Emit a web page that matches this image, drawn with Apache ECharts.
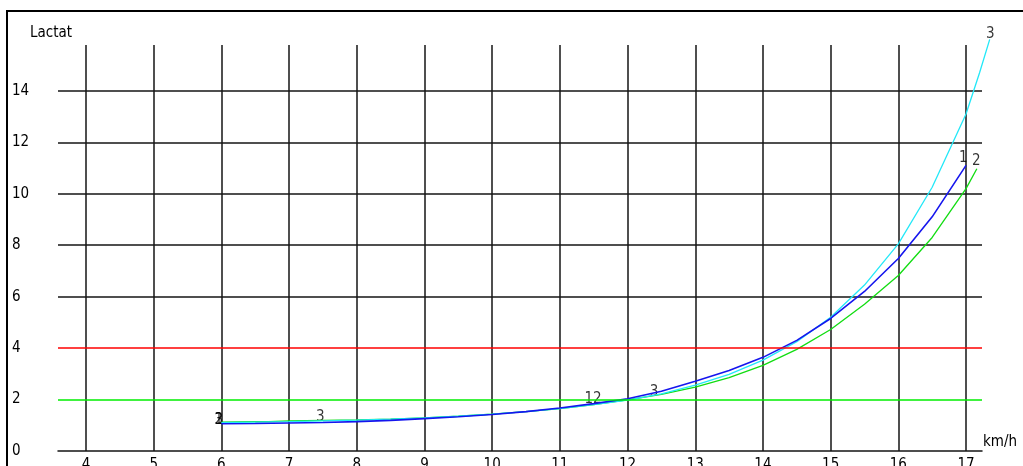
<!DOCTYPE html>
<html>
<head>
<meta charset="utf-8">
<script src="https://cdn.jsdelivr.net/npm/echarts@6/dist/echarts.min.js"></script>
<style>
html,body{margin:0;padding:0;background:#fff;}
#chart{width:1023px;height:466px;}
</style>
</head>
<body>
<div id="chart"></div>
<script>
// x tick labels (km/h) and y tick labels (Lactat)
var xTicks = [4,5,6,7,8,9,10,11,12,13,14,15,16,17];
var yTicks = [0,2,4,6,8,10,12,14];
var yGridLines = [6,8,10,12,14];
var thresholds = [2,4];

// curve 1 (blue)
var curve1 = [[6,1.06],[6.5,1.07],[7,1.09],[7.5,1.11],[8,1.14],[8.5,1.19],[9,1.26],[9.5,1.33],[10,1.42],[10.5,1.53],[11,1.67],[11.5,1.84],[12,2.03],[12.5,2.32],[13,2.71],[13.5,3.13],[14,3.64],[14.5,4.3],[15,5.15],[15.5,6.2],[16,7.48],[16.5,9.1],[17,11.1]];
// curve 2 (green)
var curve2 = [[6,1.12],[6.5,1.14],[6.7,1.14],[6.72,1.17],[7,1.17],[7.5,1.19],[8,1.21],[8.5,1.24],[9,1.29],[9.5,1.35],[10,1.43],[10.5,1.53],[11,1.65],[11.5,1.8],[12,1.99],[12.5,2.2],[13,2.48],[13.5,2.85],[14,3.33],[14.5,3.95],[15,4.72],[15.5,5.7],[16,6.82],[16.5,8.3],[17,10.2],[17.16,10.97]];
// curve 3 (cyan)
var curve3 = [[6,1.1],[6.5,1.12],[7,1.14],[7.5,1.17],[8,1.2],[8.5,1.24],[9,1.29],[9.5,1.35],[10,1.43],[10.5,1.53],[11,1.65],[11.5,1.8],[12,1.98],[12.5,2.22],[13,2.56],[13.5,2.98],[14,3.53],[14.5,4.25],[15,5.2],[15.5,6.45],[16,8.05],[16.5,10.25],[17,13.1],[17.2,14.7],[17.35,16.0]];
// curve number labels [x, y, text]
var curveLabels = [[5.96,1.2,'1'],[5.96,1.2,'2'],[5.96,1.2,'3'],[7.46,1.33,'3'],[11.49,2.0,'12'],[12.39,2.3,'3'],[16.96,11.4,'1'],[17.15,11.28,'2'],[17.36,16.22,'3']];

var FONT = '"Liberation Sans Narrow","DejaVu Sans Condensed","Liberation Sans",sans-serif';
var GRIDC = '#141414';
// axis extents (main grid: 58..982 px wide, 45..451 px high)
var X_MIN = 3.586, X_MAX = 17.236, Y_MAX = 15.78;
// overlay grid for curves (same scale, larger area so curves are not clipped)
var X_MAX2 = X_MIN + 942 / (924 / (X_MAX - X_MIN));
var Y_MAX2 = 431 / (406 / Y_MAX);

var chart = echarts.init(document.getElementById('chart'), null, {renderer:'canvas'});
chart.setOption({
  animation:false,
  backgroundColor:'#fff',
  grid:[
    {left:58, right:41, top:45, bottom:15, containLabel:false, outerBoundsMode:'none'},
    {left:58, right:23, top:20, bottom:15, containLabel:false, outerBoundsMode:'none'}
  ],
  xAxis:[{
    type:'value', min:X_MIN, max:X_MAX, gridIndex:0,
    axisLine:{show:true, lineStyle:{color:GRIDC, width:1.5}},
    axisTick:{show:false, customValues:xTicks},
    axisLabel:{customValues:xTicks, margin:7, color:'#000', fontFamily:FONT, fontSize:15},
    splitLine:{show:true, lineStyle:{color:GRIDC, width:1.5}}
  },{
    type:'value', min:X_MIN, max:X_MAX2, gridIndex:1, show:false, splitLine:{show:false}
  }],
  yAxis:[{
    type:'value', min:0, max:Y_MAX, gridIndex:0,
    axisLine:{show:false},
    axisTick:{show:false, customValues:yGridLines},
    axisLabel:{customValues:yTicks, margin:46, align:'left', padding:[12,0,0,0], color:'#000', fontFamily:FONT, fontSize:15},
    splitLine:{show:true, lineStyle:{color:GRIDC, width:1.5}}
  },{
    type:'value', min:0, max:Y_MAX2, gridIndex:1, show:false, splitLine:{show:false}
  }],
  graphic:[
    {type:'rect', shape:{x:7, y:11, width:1200, height:1000}, style:{fill:null, stroke:'#000', lineWidth:2}, silent:true},
    {type:'text', left:30, top:26, style:{text:'Lactat', fill:'#000', font:'15px '+FONT}},
    {type:'text', left:983, top:435, style:{text:'km/h', fill:'#000', font:'15px '+FONT}}
  ],
  series:[
    {type:'line', name:'thresholds', xAxisIndex:0, yAxisIndex:0, data:[], showSymbol:false,
     markLine:{silent:true, symbol:'none', label:{show:false}, animation:false,
       data:[{yAxis:thresholds[0], lineStyle:{color:'#00ee00', width:1.5, type:'solid'}},
             {yAxis:thresholds[1], lineStyle:{color:'#ff0000', width:1.5, type:'solid'}}]}},
    {type:'line', name:'2', xAxisIndex:1, yAxisIndex:1, data:curve2, showSymbol:false, clip:false, lineStyle:{color:'#11dd11', width:1.3}},
    {type:'line', name:'3', xAxisIndex:1, yAxisIndex:1, data:curve3, showSymbol:false, clip:false, lineStyle:{color:'#22e8f8', width:1.3}},
    {type:'line', name:'1', xAxisIndex:1, yAxisIndex:1, data:curve1, showSymbol:false, clip:false, lineStyle:{color:'#1515ee', width:1.6}},
    {type:'scatter', xAxisIndex:0, yAxisIndex:0, data:curveLabels.map(function(d){return {value:[d[0],d[1]], name:d[2]};}),
     symbolSize:1, itemStyle:{color:'rgba(0,0,0,0)'}, clip:false, silent:true,
     label:{show:true, position:'inside', formatter:function(p){return p.name;}, color:'#000', fontFamily:FONT, fontSize:15}}
  ]
});
</script>
</body>
</html>
